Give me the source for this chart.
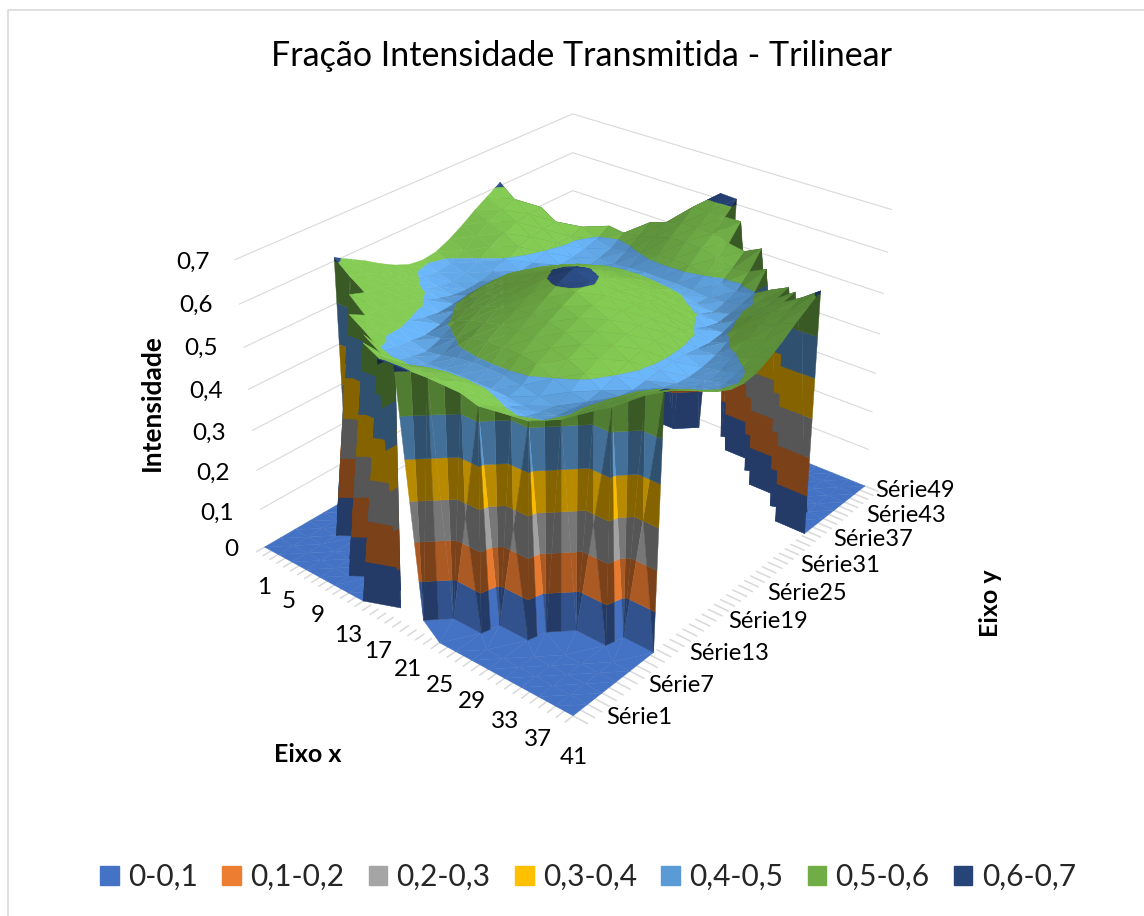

import matplotlib
matplotlib.use('Agg')
import matplotlib.pyplot as plt, numpy as np, seaborn as sns
from matplotlib.lines import Line2D
from matplotlib.patches import Patch
from mpl_toolkits.mplot3d.art3d import Poly3DCollection

W, H = 1144, 916
sns.set_theme(style='white')
plt.rcParams['font.family'] = ['Lato', 'DejaVu Sans']

title = 'Fração Intensidade Transmitida - Trilinear'
band_labels = ['0-0,1', '0,1-0,2', '0,2-0,3', '0,3-0,4', '0,4-0,5', '0,5-0,6', '0,6-0,7']
band_colors = ['#4472C4', '#ED7D31', '#A5A5A5', '#FFC000', '#5B9BD5', '#70AD47', '#264478']
z_labels = ['0', '0,1', '0,2', '0,3', '0,4', '0,5', '0,6', '0,7']
x_labels = ['1', '5', '9', '13', '17', '21', '25', '29', '33', '37', '41']
s_labels = ['Série1', 'Série7', 'Série13', 'Série19', 'Série25', 'Série31', 'Série37', 'Série43', 'Série49']

# Eixo x: 1,3,...,41 (columns); Séries: 1,3,...,49 (rows); intensity in thousandths
x_values = list(range(1, 42, 2))
s_values = list(range(1, 50, 2))
intensity = [
 [0,0,0,0,0,0,0,0,0,613,615,0,0,0,0,0,0,0,0,0,0],
 [0,0,0,0,0,0,0,0,585,584,585,584,0,0,0,0,0,0,0,0,0],
 [0,0,0,0,0,0,565,545,547,558,560,558,547,535,0,0,0,0,0,0,0],
 [0,0,0,0,0,550,525,515,526,537,540,537,526,515,510,515,0,0,0,0,0],
 [0,0,0,550,525,497,488,493,502,510,512,510,502,493,488,497,515,0,0,0,0],
 [0,0,565,531,506,488,478,476,480,482,482,482,480,476,478,488,506,531,555,0,0],
 [608,578,553,528,505,482,472,478,487,492,493,492,487,478,472,482,505,528,553,578,608],
 [588,567,548,524,498,478,485,500,517,523,525,523,517,500,485,478,498,524,548,567,588],
 [568,552,535,514,487,485,508,525,535,543,545,543,535,525,508,485,487,514,535,552,568],
 [545,531,517,498,482,500,523,540,553,562,565,562,553,540,523,500,482,498,517,531,545],
 [525,510,496,485,485,514,535,553,568,580,585,580,568,553,535,514,485,485,496,510,525],
 [510,494,483,475,490,523,543,562,580,597,605,597,580,562,543,523,490,475,483,494,510],
 [505,488,478,472,492,525,545,565,585,605,620,605,585,565,545,525,492,472,478,488,505],
 [510,494,483,475,490,523,543,562,580,597,605,597,580,562,543,523,490,475,483,494,510],
 [525,510,496,485,485,514,535,553,568,580,585,580,568,553,535,514,485,485,496,510,525],
 [545,531,517,498,482,500,523,540,553,562,565,562,553,540,523,500,482,498,517,531,545],
 [568,552,535,514,487,485,508,525,535,543,545,543,535,525,508,485,487,514,535,552,568],
 [588,567,548,524,498,478,485,500,517,523,525,523,517,500,485,478,498,524,548,567,588],
 [608,578,553,528,505,482,472,478,487,492,493,492,487,478,472,482,505,528,553,578,608],
 [0,0,555,531,506,488,478,476,480,482,482,482,480,476,478,488,506,531,560,0,0],
 [0,0,0,0,515,497,488,493,502,510,512,510,502,493,488,497,520,540,0,0,0],
 [0,0,0,0,0,515,510,515,526,537,540,537,526,515,520,540,0,0,0,0,0],
 [0,0,0,0,0,0,0,535,547,558,560,558,547,540,560,0,0,0,0,0,0],
 [0,0,0,0,0,0,0,0,0,584,585,584,585,0,0,0,0,0,0,0,0],
 [0,0,0,0,0,0,0,0,0,0,615,613,0,0,0,0,0,0,0,0,0],
]

# ---------- geometry helpers ----------
Z = np.array(intensity, float) / 1000.0
X, S = np.meshgrid(np.array(x_values, float), np.array(s_values, float))
n_s, n_x = Z.shape
wall_pull = 0.75
PX, PS = X.copy(), S.copy()
for j in range(n_s):
    for i in range(n_x):
        if Z[j, i] == 0:
            if i + 1 < n_x and Z[j, i + 1] > 0: PX[j, i] += 2 * wall_pull
            elif i > 0 and Z[j, i - 1] > 0: PX[j, i] -= 2 * wall_pull
            if j + 1 < n_s and Z[j + 1, i] > 0: PS[j, i] += 2 * wall_pull
            elif j > 0 and Z[j - 1, i] > 0: PS[j, i] -= 2 * wall_pull

def clip(poly, lo, hi):
    def cut(pts, lim, keep_above):
        out = []
        for a, b in zip(pts, pts[1:] + pts[:1]):
            ina = a[2] >= lim if keep_above else a[2] <= lim
            inb = b[2] >= lim if keep_above else b[2] <= lim
            if ina: out.append(a)
            if ina != inb:
                t = (lim - a[2]) / (b[2] - a[2])
                out.append(tuple(a[k] + t * (b[k] - a[k]) for k in range(3)))
        return out
    pts = cut(list(poly), lo, True)
    return cut(pts, hi, False) if pts else []

palette = np.array(sns.color_palette(band_colors))
light = np.array([0.80, 0.30, 0.0])
floor_v, floor_c, wall_v, wall_c, top_v, top_c = [], [], [], [], [], []

def emit(p, f, steep):
    zs = p[:, 2]
    for b in range(7):
        lo, hi = b / 10, (b + 1) / 10
        if zs.max() <= lo or zs.min() >= hi: continue
        poly = clip([tuple(v) for v in p], lo, hi)
        if len(poly) < 3: continue
        c = np.clip(palette[b] * f, 0, 1)
        if steep:
            wall_v.append(poly); wall_c.append(c)
        else:
            top_v.append(poly); top_c.append(c)

def add(tri):
    p = np.array(tri)
    zs = p[:, 2]
    q = p * np.array([1 / 40, 1.198 / 48, 0.791 / 0.7])
    n = np.cross(q[1] - q[0], q[2] - q[0])
    n = n / np.linalg.norm(n)
    if n[2] < 0: n = -n
    if zs.max() == 0:
        floor_v.append([tuple(v) for v in p]); floor_c.append(palette[0]); return
    if zs.min() > 0:
        emit(p, float(np.clip(1.02 + 0.55 * (n @ light), 0.72, 1.18)), False); return
    mx, ms = p[:, 0].mean(), p[:, 1].mean()
    comb = mx > 21 and ms < 25
    if not comb:
        lit = mx < 21 and ms > 25 and n[0] < -0.35
        emit(p, 0.8 if lit else 0.52, True); return
    # front comb: each wall facet reads as a darker and a lighter strip
    f_hi = 0.98 if n[0] > 0.35 else 0.72
    k = max(range(3), key=lambda a: np.hypot(*(p[a] - p[(a + 1) % 3])[:2]))
    a, b, c = p[k], p[(k + 1) % 3], p[(k + 2) % 3]
    m = (a + b) / 2
    emit(np.array([a, m, c]), 0.52, True)
    emit(np.array([m, b, c]), f_hi, True)

for j in range(n_s - 1):
    for i in range(n_x - 1):
        v = [(PX[j, i], PS[j, i], Z[j, i]), (PX[j, i + 1], PS[j, i + 1], Z[j, i + 1]),
             (PX[j + 1, i + 1], PS[j + 1, i + 1], Z[j + 1, i + 1]), (PX[j + 1, i], PS[j + 1, i], Z[j + 1, i])]
        add([v[0], v[1], v[2]])
        add([v[0], v[2], v[3]])

# ---------- figure ----------
fig = plt.figure(figsize=(W / 100, H / 100), dpi=100, facecolor='white')
fig.add_artist(Line2D([8 / W, 8 / W, 1], [0, 1 - 10 / H, 1 - 10 / H], transform=fig.transFigure,
                      color='#D9D9D9', lw=1.2))
ax = fig.add_axes([-11.5 / W, 64.5 / H, 1, 1], projection='3d', computed_zorder=False)
ax.patch.set_alpha(0)
ax.set_xlim(1, 41); ax.set_ylim(1, 49); ax.set_zlim(0, 0.7)
ax.view_init(29.423, -50.188)
ax.set_proj_type('persp', focal_length=0.357)
ax.set_box_aspect((1, 1.198, 0.791), zoom=0.757)
ax.set_axis_off()

grid_c = '#D9D9D9'
for k in range(8):
    z = k / 10
    ax.plot([1, 1, 41], [1, 49, 49], [z, z, z], color=grid_c, lw=0.8, zorder=0)
for x in range(1, 42):
    ax.plot([x, x], [1, -0.1], [0, 0], color=grid_c, lw=1.1, zorder=0)
for s in range(1, 50):
    ax.plot([41, 42.6], [s, s], [0, 0], color=grid_c, lw=1.1, zorder=0)

def coll(v, c, zo):
    pc = Poly3DCollection(v, facecolors=c, edgecolors=c, linewidths=0.3, zorder=zo)
    ax.add_collection3d(pc, autolim=False)
coll(floor_v, floor_c, 1)
coll(wall_v, wall_c, 2)
coll(top_v, top_c, 3)

def ptext(px, py, s, **kw):
    fig.text(px / W, 1 - py / H, s, va='center', color='#000000', **kw)

ptext(581, 56, title, ha='center', fontsize=24.5)
z_right = [238, 234, 230, 226, 223, 218, 213, 210]
z_y = [550, 513, 473, 433, 391, 348, 305, 262]
for lb, px, py in zip(z_labels, z_right, z_y):
    ptext(px, py, lb, ha='right', fontsize=17.5)
x_cx = [264, 289, 318, 348, 378, 408, 440, 472, 505, 538, 574]
x_cy = [587, 601, 616, 636, 651, 669, 686, 702, 721, 739, 757]
for lb, px, py in zip(x_labels, x_cx, x_cy):
    ptext(px, py, lb, ha='center', fontsize=17.5)
s_lx = [606, 648, 689, 728, 767, 800, 833, 866, 875]
s_ly = [718, 685, 653, 622, 593, 566, 540, 515, 491]
for lb, px, py in zip(s_labels, s_lx, s_ly):
    ptext(px, py, lb, ha='left', fontsize=17)
ptext(152, 403, 'Intensidade', ha='center', rotation=90, fontsize=19, fontweight='bold')
ptext(308, 754, 'Eixo x', ha='center', fontsize=18, fontweight='bold')
ptext(990, 603, 'Eixo y', ha='center', rotation=90, fontsize=18, fontweight='bold')

handles = [Patch(facecolor=c, edgecolor=c) for c in band_colors]
fig.legend(handles, band_labels, loc='center', bbox_to_anchor=(588 / W, 1 - 877 / H), ncol=7,
           frameon=False, fontsize=21.5, handlelength=0.62, handleheight=0.62, handletextpad=0.31,
           columnspacing=0.82)
fig.savefig('out.png', dpi=100)
